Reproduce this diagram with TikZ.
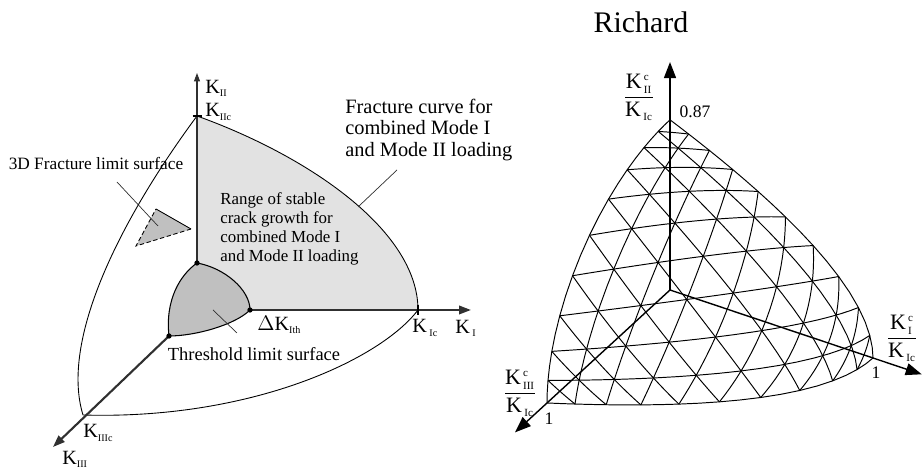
\documentclass[tikz,border=0pt]{standalone}
\usepackage{amsmath}
\usepackage{fontspec}
\setmainfont{Liberation Serif}
\usetikzlibrary{arrows.meta,positioning}
\definecolor{fcgray}{RGB}{226,226,226}
\definecolor{thgray}{RGB}{192,192,192}
\definecolor{axdark}{RGB}{48,48,48}

% small roman index as in the printed figure
\newcommand{\kidx}[1]{{\scriptscriptstyle\mathrm{#1}}}

% surface of the Richard criterion, radial projection of a planar grid point
\tikzset{declare function={
    tpar(\ka,\kb,\kc)=2/(\ka+sqrt(\ka*\ka+4*(1.3333*\kb*\kb+\kc*\kc)));
    mx(\ka,\kb,\kc)=tpar(\ka,\kb,\kc)*\ka;
    my(\ka,\kb,\kc)=tpar(\ka,\kb,\kc)*\kb;
    mz(\ka,\kb,\kc)=tpar(\ka,\kb,\kc)*\kc;
}}

\begin{document}
\begin{tikzpicture}[x=1.0cm,y=1.0cm,
    thinline/.style={line width=0.5pt},
    axisthin/.style={line width=0.6pt, draw=axdark, -{Triangle[length=0.17cm,width=0.12cm]}},
    axisthick/.style={line width=1.2pt, draw=axdark, -{Triangle[length=0.24cm,width=0.17cm]}},
    axisR/.style={line width=0.8pt, -{Triangle[length=0.32cm,width=0.24cm]}},
    meshline/.style={line width=0.55pt},
    leader/.style={line width=0.4pt, draw=axdark},
    klabel/.style={font=\fontsize{11.5}{13}\selectfont, inner sep=0pt, anchor=west},
    kfrac/.style={font=\fontsize{12.5}{14}\selectfont, inner sep=0pt},
    numlabel/.style={font=\fontsize{10}{12}\selectfont, inner sep=0pt}]

\useasboundingbox (0,0) rectangle (18.44,9.42);

% =========================
% Left panel: fracture limit surface
% =========================
\coordinate (KIIc) at (3.94,7.10);
\coordinate (KIItip) at (3.94,7.96);
\coordinate (KIc) at (8.36,3.22);
\coordinate (KItip) at (9.42,3.22);
\coordinate (KIIIc) at (1.66,1.12);
\coordinate (KIIItip) at (1.06,0.48);
\coordinate (thA) at (3.94,4.16);
\coordinate (thB) at (5.00,3.22);
\coordinate (thC) at (3.38,2.70);

% range of stable crack growth
\fill[fcgray] (KIIc) .. controls (6.14,6.31) and (8.36,4.82) .. (KIc) -- (thB)
    .. controls (5.00,3.62) and (4.50,4.06) .. (thA) -- cycle;
\draw[thinline] (KIIc) .. controls (6.14,6.31) and (8.36,4.82) .. (KIc);

% outer edges of the 3D surface
\draw[thinline] (KIIc) .. controls (2.40,5.02) and (1.20,2.62) .. (KIIIc);
\draw[thinline] (KIc) .. controls (7.60,2.22) and (5.00,1.02) .. (KIIIc);

% patch of the 3D surface
\coordinate (patchA) at (3.12,5.24);
\coordinate (patchB) at (3.82,4.84);
\coordinate (patchC) at (2.72,4.50);
\fill[thgray] (patchA) -- (patchB) -- (patchC) -- cycle;
\draw[thinline] (patchA) -- (patchB);
\draw[thinline, dashed, dash pattern=on 2.5pt off 1.5pt] (patchB) -- (patchC) -- (patchA);

% threshold limit surface
\filldraw[fill=thgray, draw=black, line width=0.6pt] (thA)
    .. controls (4.50,4.06) and (5.00,3.62) .. (thB)
    .. controls (4.70,2.92) and (3.90,2.70) .. (thC)
    .. controls (3.30,3.42) and (3.60,3.92) .. cycle;

% axes
\draw[axisthin] (thA) -- (KIItip);
\draw[axisthick] (thB) -- (KItip);
\draw[axisthick] (thC) -- (KIIItip);
\draw[line width=1pt] (KIIc) ++(-0.09,0) -- ++(0.18,0);
\draw[line width=0.6pt] (KIc) ++(0,-0.1) -- ++(0,0.2);
\foreach \p in {thA,thB,thC}
    \fill (\p) circle (1.5pt);

% axis labels
\node[klabel] (lKII) at (4.10,7.66) {$\mathrm{K}_{\kidx{II}}$};
\node[klabel] (lKIIc) at (4.10,7.18) {$\mathrm{K}_{\kidx{IIc}}$};
\node[klabel] (lKIc) at (8.24,2.86) {$\mathrm{K}_{\,\kidx{Ic}}$};
\node[klabel] (lKI) at (9.10,2.86) {$\mathrm{K}_{\,\kidx{I}}$};
\node[klabel] (lKIth) at (5.14,2.92) {$\Delta\mathrm{K}_{\kidx{Ith}}$};
\node[klabel] (lKIIIc) at (1.66,0.76) {$\mathrm{K}_{\kidx{IIIc}}$};
\node[klabel] (lKIII) at (1.24,0.24) {$\mathrm{K}_{\kidx{III}}$};

% texts and leaders
\node[font=\fontsize{10.5}{12}\selectfont, inner sep=0pt] (thText) at (5.08,2.34) {Threshold limit surface};
\coordinate (thIn) at (4.26,3.22);
\coordinate (thOut) at (4.74,2.76);
\draw[leader] (thIn) -- (thOut);

\node[font=\fontsize{9.85}{11}\selectfont, inner sep=0pt] (patchText) at (1.92,6.14) {3D Fracture limit surface};
\coordinate (patchOut) at (2.34,5.78);
\coordinate (patchIn) at (3.16,4.90);
\draw[leader] (patchOut) -- (patchIn);

\node[font=\fontsize{9.6}{10.8}\selectfont, inner sep=0pt, anchor=west, align=left] (rangeText) at (4.40,4.85)
    {Range of stable\\crack growth for\\combined Mode I\\and Mode II loading};

\node[font=\fontsize{11.6}{12.4}\selectfont, inner sep=0pt, anchor=west, align=left] (curveText) at (6.90,6.82)
    {Fracture curve for\\combined Mode I\\and Mode II loading};
\coordinate (curveOut) at (7.94,6.02);
\coordinate (curveIn) at (7.16,5.28);
\draw[leader] (curveOut) -- (curveIn);

% =========================
% Right panel: Richard criterion
% =========================
\begin{scope}[shift={(13.40,3.62)}, x={(4.06cm,-1.36cm)}, y={(0cm,3.93cm)}, z={(-2.46cm,-2.26cm)}]
    \coordinate (OR) at (0,0,0);
    \coordinate (RItip) at (1.24,0,0);
    \coordinate (RIItip) at (0,1.16,0);
    \coordinate (RIIItip) at (0,0,1.26);

    \foreach \n in {0,...,9} {
        \pgfmathsetmacro{\seg}{(10-\n)/10}
        \pgfmathsetmacro{\lev}{\n/10}
        % constant K_II level
        \draw[meshline] plot[variable=\pos, domain=0:1, samples=21]
            ({mx((1-\pos)*\seg,\lev,\pos*\seg)}, {my((1-\pos)*\seg,\lev,\pos*\seg)}, {mz((1-\pos)*\seg,\lev,\pos*\seg)});
        % constant K_III level
        \draw[meshline] plot[variable=\pos, domain=0:1, samples=21]
            ({mx((1-\pos)*\seg,\pos*\seg,\lev)}, {my((1-\pos)*\seg,\pos*\seg,\lev)}, {mz((1-\pos)*\seg,\pos*\seg,\lev)});
        % constant K_I level
        \draw[meshline] plot[variable=\pos, domain=0:1, samples=21]
            ({mx(\lev,(1-\pos)*\seg,\pos*\seg)}, {my(\lev,(1-\pos)*\seg,\pos*\seg)}, {mz(\lev,(1-\pos)*\seg,\pos*\seg)});
    }

    \draw[axisR] (OR) -- (RItip);
    \draw[axisR] (OR) -- (RIItip);
    \draw[axisR] (OR) -- (RIIItip);
\end{scope}

\node[font=\fontsize{17}{20}\selectfont, inner sep=0pt] (title) at (12.82,8.98) {Richard};
\node[kfrac] (fII) at (12.78,7.48) {$\dfrac{\mathrm{K}^{\kidx{\,c}}_{\kidx{\,II}}}{\mathrm{K}_{\kidx{\,Ic}}}$};
\node[numlabel] (top) at (13.90,7.18) {0.87};
\node[kfrac] (fI) at (18.04,2.66) {$\dfrac{\mathrm{K}^{\kidx{\,c}}_{\kidx{\,I}}}{\mathrm{K}_{\kidx{\,Ic}}}$};
\node[numlabel] (oneI) at (17.52,1.96) {1};
\node[kfrac] (fIII) at (10.40,1.56) {$\dfrac{\mathrm{K}^{\kidx{\,c}}_{\kidx{\,III}}}{\mathrm{K}_{\kidx{\,Ic}}}$};
\node[numlabel] (oneIII) at (10.98,1.04) {1};

\end{tikzpicture}
\end{document}
